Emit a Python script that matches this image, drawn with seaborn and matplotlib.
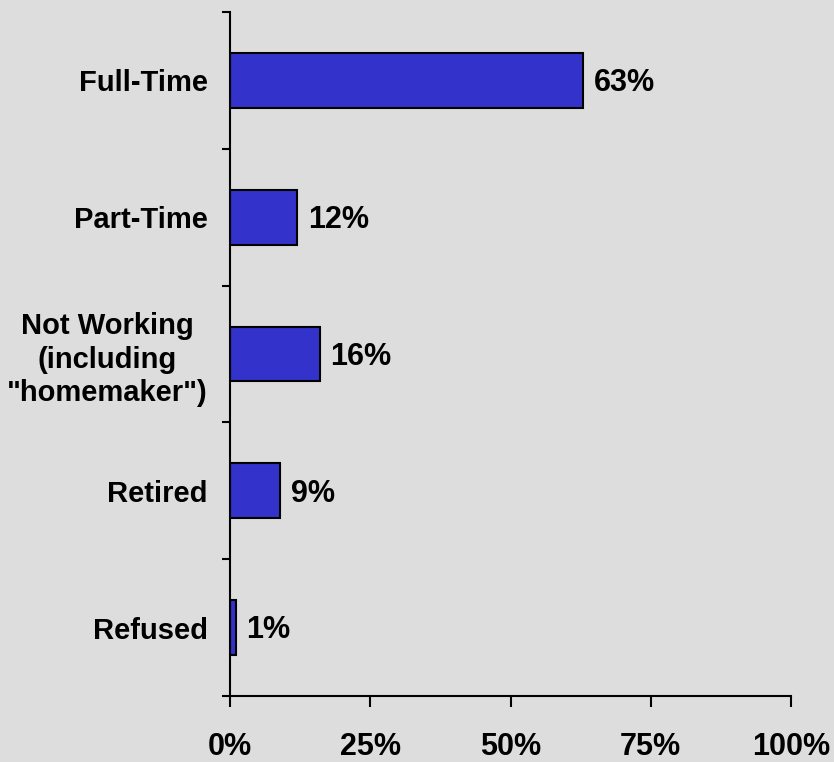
import matplotlib
matplotlib.use("Agg")
import matplotlib.pyplot as plt
import seaborn as sns
import pandas as pd
from matplotlib.ticker import FixedLocator

categories = ["Full-Time", "Part-Time", "Not Working\n(including\n\"homemaker\")", "Retired", "Refused"]
values = [63, 12, 16, 9, 1]
xticks = [0, 25, 50, 75, 100]
xtick_labels = ["0%", "25%", "50%", "75%", "100%"]

sns.set_theme(style="white")
plt.rcParams['font.family'] = ['Liberation Sans', 'DejaVu Sans']
plt.rcParams['font.weight'] = 'bold'
plt.rcParams['text.color'] = 'black'

bg = "#DDDDDD"
fig = plt.figure(figsize=(8.34, 7.62), dpi=100, facecolor=bg)
ax = fig.add_axes([230/834, 66/762, (791-230)/834, (696-12)/762])
ax.set_facecolor(bg)

df = pd.DataFrame({"cat": categories, "val": values})
sns.barplot(data=df, x="val", y="cat", color="#3333CC", edgecolor="black",
            linewidth=1.5, width=0.4, saturation=1, ax=ax)

for p, v in zip(ax.patches, values):
    ax.text(p.get_width() + 1.9, p.get_y() + p.get_height() / 2 + 0.02, f"{v}%",
            va="center", ha="left", fontsize=22, fontweight="bold", color="black")

ax.set_xlim(0, 100)
ax.set_ylim(len(categories) - 0.5, -0.5)
ax.set_xticks(xticks)
ax.set_xticklabels(xtick_labels, fontsize=22, fontweight="bold", color="black")
ax.tick_params(axis="x", direction="out", length=8, width=1.5, pad=18, colors="black", bottom=True)

ax.set_yticks(range(len(categories)))
ax.set_yticklabels(categories, fontsize=21, fontweight="bold", color="black",
                   multialignment="center", linespacing=1.25)
ax.tick_params(axis="y", which="major", length=0, pad=16)
ax.yaxis.set_minor_locator(FixedLocator([i - 0.5 for i in range(len(categories) + 1)]))
ax.tick_params(axis="y", which="minor", direction="out", length=6, width=1.5, color="black", left=True)

ax.set_xlabel("")
ax.set_ylabel("")
for s in ["top", "right"]:
    ax.spines[s].set_visible(False)
for s in ["left", "bottom"]:
    ax.spines[s].set_color("black")
    ax.spines[s].set_linewidth(1.5)

fig.savefig("out.png", dpi=100, facecolor=bg)
